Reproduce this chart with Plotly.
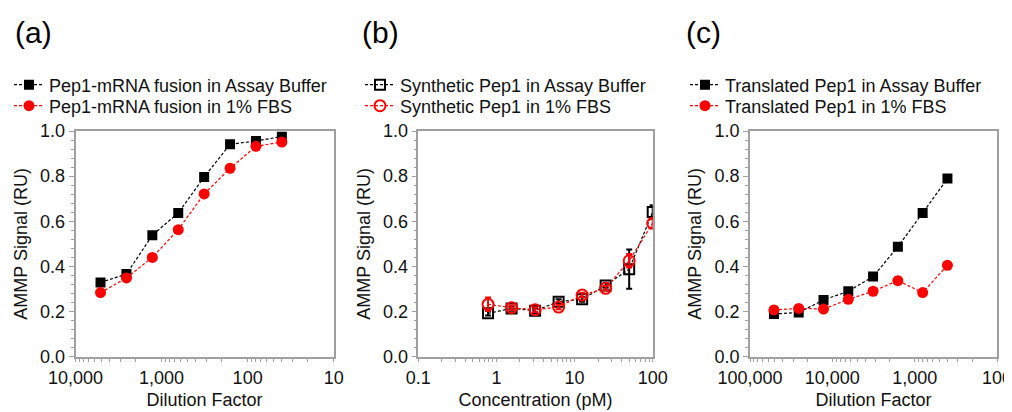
import plotly.graph_objects as go

# ---------------- data ----------------
a_dilution = [5120, 2560, 1280, 640, 320, 160, 80, 40]
a_buffer = [0.329, 0.366, 0.538, 0.637, 0.796, 0.941, 0.956, 0.975]
a_fbs = [0.284, 0.349, 0.440, 0.563, 0.721, 0.835, 0.932, 0.951]

b_conc = [0.78125, 1.5625, 3.125, 6.25, 12.5, 25, 50, 100]
b_buffer = [0.192, 0.214, 0.204, 0.244, 0.254, 0.316, 0.388, 0.641]
b_buffer_err = [0.01, 0.01, 0.01, 0.01, 0.01, 0.01, 0.087, 0.03]
b_fbs = [0.232, 0.217, 0.208, 0.220, 0.273, 0.303, 0.425, 0.591]
b_fbs_err = [0.03, 0.01, 0.01, 0.01, 0.01, 0.01, 0.03, 0.02]

c_dilution = [51200, 25600, 12800, 6400, 3200, 1600, 800, 400]
c_buffer = [0.189, 0.196, 0.251, 0.290, 0.355, 0.487, 0.637, 0.789]
c_fbs = [0.207, 0.214, 0.211, 0.254, 0.290, 0.337, 0.284, 0.405]

names_a = ["Pep1-mRNA fusion in Assay Buffer", "Pep1-mRNA fusion in 1% FBS"]
names_b = ["Synthetic Pep1 in Assay Buffer", "Synthetic Pep1 in 1% FBS"]
names_c = ["Translated Pep1 in Assay Buffer", "Translated Pep1 in 1% FBS"]

a_ticks = [10000, 1000, 100, 10]
a_ticktext = ["10,000", "1,000", "100", "10"]
b_ticks = [0.1, 1, 10, 100]
b_ticktext = ["0.1", "1", "10", "100"]
c_ticks = [100000, 10000, 1000, 100]
c_ticktext = ["100,000", "10,000", "1,000", "100"]
panel_labels = ["(a)", "(b)", "(c)"]
y_title = "AMMP Signal (RU)"
x_titles = ["Dilution Factor", "Concentration (pM)", "Dilution Factor"]

# ---------------- style ----------------
FONT = "Liberation Sans, Arial, sans-serif"
BLACK = "#000000"
RED = "#ff0000"
AXIS = "#a0a0a0"
TXT = "#111111"
DASH = "3px,2px"
MS = 11

# page body has an 8px margin; figure sized to fill the rest of the window
OFF = 8
W, H = 1004, 404


def fx(sx):
    return (sx - OFF) / W


def fy(sy):
    return 1 - (sy - OFF) / H


def minor_vals(lo_exp, hi_exp):
    vals = []
    for e in range(lo_exp, hi_exp):
        for m in range(2, 10):
            vals.append(m * 10 ** e)
    return vals


fig = go.Figure()

# panel a
fig.add_trace(go.Scatter(x=a_dilution, y=a_buffer, name=names_a[0], mode="lines+markers",
                         line=dict(color=BLACK, width=1.2, dash=DASH),
                         marker=dict(symbol="square", size=MS - 1, color=BLACK),
                         xaxis="x", yaxis="y", legend="legend"))
fig.add_trace(go.Scatter(x=a_dilution, y=a_fbs, name=names_a[1], mode="lines+markers",
                         line=dict(color=RED, width=1.2, dash=DASH),
                         marker=dict(symbol="circle", size=MS, color=RED),
                         xaxis="x", yaxis="y", legend="legend2"))

# panel b
fig.add_trace(go.Scatter(x=b_conc, y=b_buffer, name=names_b[0], mode="lines+markers",
                         line=dict(color=BLACK, width=1.2, dash=DASH),
                         marker=dict(symbol="square-open", size=MS - 1, color=BLACK,
                                     line=dict(width=2, color=BLACK)),
                         error_y=dict(type="data", array=b_buffer_err, color=BLACK,
                                      thickness=2, width=3),
                         xaxis="x2", yaxis="y2", legend="legend3"))
fig.add_trace(go.Scatter(x=b_conc, y=b_fbs, name=names_b[1], mode="lines+markers",
                         line=dict(color=RED, width=1.2, dash=DASH),
                         marker=dict(symbol="circle-open", size=MS, color=RED,
                                     line=dict(width=2, color=RED)),
                         error_y=dict(type="data", array=b_fbs_err, color=RED,
                                      thickness=2, width=3),
                         xaxis="x2", yaxis="y2", legend="legend4"))

# panel c
fig.add_trace(go.Scatter(x=c_dilution, y=c_buffer, name=names_c[0], mode="lines+markers",
                         line=dict(color=BLACK, width=1.2, dash=DASH),
                         marker=dict(symbol="square", size=MS - 1, color=BLACK),
                         xaxis="x3", yaxis="y3", legend="legend5"))
fig.add_trace(go.Scatter(x=c_dilution, y=c_fbs, name=names_c[1], mode="lines+markers",
                         line=dict(color=RED, width=1.2, dash=DASH),
                         marker=dict(symbol="circle", size=MS, color=RED),
                         xaxis="x3", yaxis="y3", legend="legend6"))

ydom = [fy(356.7), fy(131)]
xdoms = [[fx(75.5), fx(333.7)], [fx(418.3), fx(652.7)], [fx(750), fx(997)]]
xranges = [[4, 1], [-1, 2], [5, 2]]
xticks = [(a_ticks, a_ticktext), (b_ticks, b_ticktext), (c_ticks, c_ticktext)]
minors = [minor_vals(1, 4), minor_vals(-1, 2), minor_vals(2, 5)]

common_axis = dict(showline=True, linecolor=AXIS, linewidth=1.5, mirror=True,
                   showgrid=False, zeroline=False, ticks="outside", tickcolor=AXIS,
                   automargin=False, ticklabeloverflow="allow",
                   tickfont=dict(family=FONT, size=18, color=TXT))

for i in range(3):
    sx = "" if i == 0 else str(i + 1)
    fig.update_layout(**{
        f"xaxis{sx}": dict(domain=xdoms[i], type="log", range=xranges[i],
                           anchor=f"y{sx}", tickmode="array",
                           tickvals=xticks[i][0], ticktext=xticks[i][1], ticklen=4,
                           minor=dict(tickmode="array", tickvals=minors[i], ticks="outside",
                                      ticklen=4, tickcolor=AXIS),
                           title=dict(text=x_titles[i], standoff=6,
                                      font=dict(family=FONT, size=18, color=TXT)),
                           **common_axis),
        f"yaxis{sx}": dict(domain=ydom, range=[0, 1], anchor=f"x{sx}", dtick=0.2,
                           tickformat=".1f", ticklen=5,
                           minor=dict(dtick=0.04, ticks="outside", ticklen=3, tickcolor=AXIS),
                           title=dict(text=y_title, standoff=8,
                                      font=dict(family=FONT, size=18, color=TXT)),
                           **common_axis),
    })

legend_common = dict(font=dict(family=FONT, size=18, color=TXT), bgcolor="rgba(0,0,0,0)",
                     yanchor="middle", xanchor="left", itemwidth=30)
leg_x = [fx(9), fx(360), fx(685)]
row_y = [fy(85), fy(106)]
legend_layout = {}
k = 1
for lx in leg_x:
    for ry in row_y:
        key = "legend" if k == 1 else f"legend{k}"
        legend_layout[key] = dict(x=lx, y=ry, **legend_common)
        k += 1
fig.update_layout(**legend_layout)

label_x = [13, 360, 684]
for i, lab in enumerate(panel_labels):
    fig.add_annotation(text=lab, x=fx(label_x[i]), y=fy(32), xref="paper", yref="paper",
                       xanchor="left", yanchor="middle", showarrow=False,
                       font=dict(family=FONT, size=30, color="#000000"))

fig.update_layout(width=W, height=H, margin=dict(l=0, r=0, t=0, b=0, autoexpand=False),
                  paper_bgcolor="white", plot_bgcolor="white", showlegend=True,
                  font=dict(family=FONT))

fig.write_html("out.html")
